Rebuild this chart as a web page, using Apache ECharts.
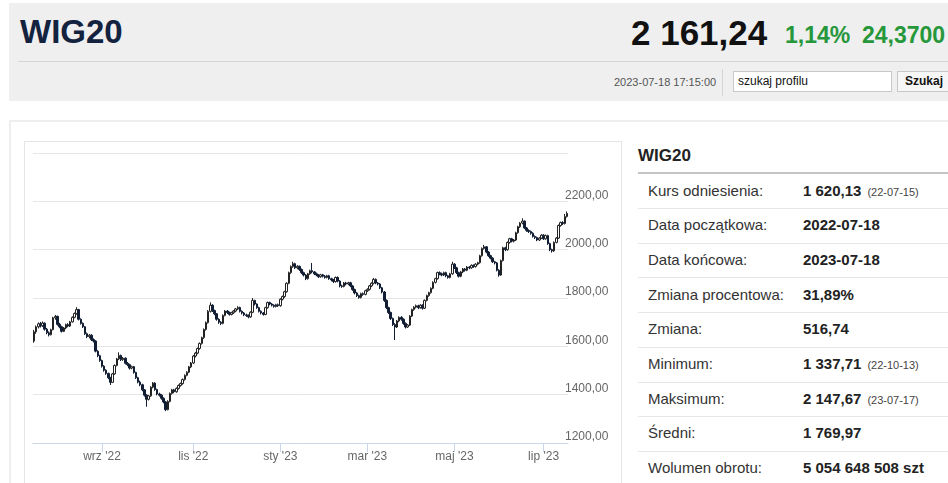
<!DOCTYPE html>
<html>
<head>
<meta charset="utf-8">
<script src="https://cdn.jsdelivr.net/npm/echarts@6/dist/echarts.min.js"></script>
<style>
  html, body { margin:0; padding:0; background:#fff; width:948px; height:483px; overflow:hidden; font-family:"Liberation Sans", Arial, sans-serif; }
  .abs { position:absolute; white-space:nowrap; }
  #header { position:absolute; left:9px; top:3px; width:950px; height:98px; background:#efefef; }
  #panel { position:absolute; left:9px; top:120px; width:950px; height:380px; border:2px solid #eeeeee; box-sizing:border-box; }
  #chartbox { position:absolute; left:24px; top:141px; width:598px; height:360px; border:1px solid #e6e6e6; box-sizing:border-box; }
  #chart { position:absolute; left:25px; top:143px; width:597px; height:340px; }
  .row-line { position:absolute; left:638px; width:320px; height:1px; background:#e6e6e6; }
  .lbl { position:absolute; left:648px; font-size:15px; color:#333; }
  .val { position:absolute; left:803px; font-size:15px; font-weight:bold; color:#222; }
  .note { font-size:11px; font-weight:normal; color:#444; margin-left:6px; }
</style>
</head>
<body>
<div id="header"></div>
<div id="panel"></div>
<div id="chartbox"></div>
<div id="chart"></div>
<div id="texts"></div>
<script>
// ---------- header / table values ----------
const quoteName = "WIG20";
const quotePrice = "2 161,24";
const quoteChangePct = "1,14%";
const quoteChange = "24,3700";
const quoteTime = "2023-07-18 17:15:00";
const searchPlaceholder = "szukaj profilu";
const searchButton = "Szukaj";
const statLabels = ["Kurs odniesienia:", "Data początkowa:", "Data końcowa:", "Zmiana procentowa:", "Zmiana:", "Minimum:", "Maksimum:", "Średni:", "Wolumen obrotu:"];
const statValues = ["1 620,13", "2022-07-18", "2023-07-18", "31,89%", "516,74", "1 337,71", "2 147,67", "1 769,97", "5 054 648 508 szt"];
const statNotes  = ["(22-07-15)", "", "", "", "", "(22-10-13)", "(23-07-17)", "", ""];

// ---------- axis values ----------
const monthNames = ['sty','lut','mar','kwi','maj','cze','lip','sie','wrz','paź','lis','gru'];
const labelMonths = [0, 2, 4, 6, 8, 10];
const yTicks = { min: 1200, max: 2400, step: 200 };
const startDate = "2022-07-18";
const endDate = "2023-07-18";
const holidays = ['2022-08-15','2022-11-01','2022-11-11','2022-12-26','2023-01-06','2023-04-07','2023-04-10','2023-05-01','2023-05-03','2023-06-08'];

// ---------- candles [open, close, low, high] per month ----------
const jul22 = [[1622,1660,1615,1668],[1660,1681,1652,1686],[1681,1693,1674,1699],[1693,1685,1678,1701],[1685,1696,1680,1703],[1696,1671,1665,1699],[1671,1656,1650,1676],[1656,1648,1641,1662],[1648,1669,1645,1673],[1669,1718,1666,1722]];
const aug22 = [[1718,1724,1710,1730],[1724,1691,1686,1727],[1691,1681,1675,1697],[1681,1662,1657,1685],[1662,1676,1659,1680],[1676,1690,1671,1694],[1690,1684,1679,1696],[1684,1701,1680,1705],[1701,1720,1698,1724],[1720,1736,1716,1740],[1736,1752,1731,1762],[1752,1712,1707,1755],[1712,1695,1690,1716],[1695,1681,1676,1699],[1681,1652,1647,1684],[1652,1640,1634,1657],[1640,1646,1633,1651],[1646,1628,1622,1650],[1628,1622,1616,1633],[1622,1580,1575,1625],[1580,1561,1555,1584],[1561,1541,1536,1565]];
const sep22 = [[1541,1518,1512,1545],[1518,1501,1495,1522],[1501,1488,1482,1505],[1488,1470,1464,1491],[1470,1451,1440,1474],[1451,1486,1448,1490],[1486,1521,1482,1525],[1521,1548,1517,1552],[1548,1562,1543,1575],[1562,1545,1539,1566],[1545,1551,1540,1556],[1551,1530,1525,1554],[1530,1524,1518,1535],[1524,1510,1504,1528],[1510,1516,1505,1520],[1516,1492,1487,1519],[1492,1470,1465,1495],[1470,1452,1447,1474],[1452,1441,1435,1458],[1441,1420,1414,1445],[1420,1398,1392,1423],[1398,1381,1350,1402]];
const oct22 = [[1381,1395,1376,1399],[1395,1431,1391,1435],[1431,1448,1426,1452],[1448,1421,1416,1451],[1421,1403,1397,1425],[1403,1398,1392,1408],[1398,1385,1379,1402],[1385,1370,1364,1389],[1370,1338,1332,1374],[1338,1372,1335,1377],[1372,1405,1368,1409],[1405,1420,1400,1424],[1420,1412,1406,1424],[1412,1426,1408,1430],[1426,1438,1421,1442],[1438,1446,1433,1450],[1446,1463,1441,1467],[1463,1480,1458,1484],[1480,1493,1476,1497],[1493,1515,1489,1519],[1515,1531,1510,1535]];
const nov22 = [[1531,1560,1527,1564],[1560,1572,1554,1577],[1572,1591,1567,1595],[1591,1612,1586,1616],[1612,1636,1607,1640],[1636,1670,1631,1674],[1670,1698,1665,1703],[1698,1745,1694,1750],[1745,1770,1740,1782],[1770,1748,1742,1774],[1748,1735,1729,1752],[1735,1712,1706,1738],[1712,1700,1693,1716],[1700,1695,1688,1704],[1695,1728,1691,1732],[1728,1746,1724,1750],[1746,1740,1734,1750],[1740,1732,1727,1744],[1732,1739,1728,1743],[1739,1746,1734,1750]];
const dec22 = [[1746,1755,1741,1759],[1755,1761,1750,1766],[1761,1745,1740,1764],[1745,1738,1732,1749],[1738,1730,1725,1742],[1730,1728,1722,1735],[1728,1722,1716,1732],[1722,1741,1718,1745],[1741,1790,1737,1800],[1790,1775,1769,1793],[1775,1760,1755,1778],[1760,1745,1740,1764],[1745,1738,1732,1749],[1738,1732,1727,1742],[1732,1760,1729,1764],[1760,1781,1756,1785],[1781,1775,1770,1785],[1775,1770,1765,1779],[1770,1765,1760,1774],[1765,1772,1761,1776],[1772,1768,1763,1777]];
const jan23 = [[1768,1795,1764,1799],[1795,1806,1790,1810],[1806,1826,1801,1830],[1826,1861,1822,1865],[1861,1905,1857,1909],[1905,1930,1900,1935],[1930,1942,1925,1950],[1942,1925,1920,1946],[1925,1931,1919,1936],[1931,1918,1912,1934],[1918,1905,1899,1922],[1905,1895,1889,1909],[1895,1880,1874,1899],[1880,1900,1876,1904],[1900,1913,1896,1917],[1913,1908,1902,1945],[1908,1900,1895,1912],[1900,1895,1890,1905],[1895,1888,1883,1899],[1888,1896,1884,1900],[1896,1890,1885,1900]];
const feb23 = [[1890,1885,1880,1895],[1885,1892,1881,1896],[1892,1880,1875,1896],[1880,1875,1869,1884],[1875,1868,1862,1879],[1868,1885,1864,1889],[1885,1870,1865,1889],[1870,1850,1844,1874],[1850,1848,1842,1855],[1848,1862,1844,1866],[1862,1858,1852,1867],[1858,1863,1853,1867],[1863,1850,1845,1867],[1850,1835,1830,1854],[1835,1821,1815,1839],[1821,1810,1804,1825],[1810,1802,1797,1814],[1802,1818,1798,1822],[1818,1815,1809,1823],[1815,1830,1811,1834]];
const mar23 = [[1830,1836,1825,1840],[1836,1850,1831,1854],[1850,1861,1845,1865],[1861,1877,1856,1883],[1877,1862,1857,1881],[1862,1858,1852,1866],[1858,1842,1837,1862],[1842,1825,1819,1846],[1825,1790,1784,1829],[1790,1760,1754,1794],[1760,1740,1734,1764],[1740,1715,1709,1744],[1715,1690,1684,1719],[1690,1680,1626,1696],[1680,1705,1676,1709],[1705,1720,1700,1724],[1720,1712,1706,1725],[1712,1695,1689,1716],[1695,1680,1674,1699],[1680,1688,1676,1692],[1688,1725,1684,1729],[1725,1752,1721,1756],[1752,1762,1747,1766]];
const apr23 = [[1762,1768,1757,1773],[1768,1760,1754,1772],[1760,1770,1756,1774],[1770,1758,1752,1774],[1758,1790,1754,1794],[1790,1810,1786,1814],[1810,1822,1805,1826],[1822,1840,1818,1844],[1840,1865,1836,1869],[1865,1880,1860,1884],[1880,1905,1876,1909],[1905,1900,1894,1910],[1900,1895,1890,1905],[1895,1905,1891,1909],[1905,1892,1886,1909],[1892,1885,1880,1896],[1885,1900,1881,1904],[1900,1940,1896,1950]];
const may23 = [[1940,1925,1920,1944],[1925,1905,1899,1929],[1905,1890,1885,1909],[1890,1908,1886,1912],[1908,1920,1903,1924],[1920,1915,1909,1924],[1915,1928,1911,1932],[1928,1925,1919,1932],[1925,1935,1921,1939],[1935,1930,1925,1939],[1930,1940,1926,1944],[1940,1946,1935,1950],[1946,1975,1942,1979],[1975,2005,1971,2009],[2005,2012,2000,2020],[2012,1990,1985,2015],[1990,1975,1970,1994],[1975,1965,1960,1979],[1965,1950,1945,1969],[1950,1945,1939,1954],[1945,1915,1910,1949]];
const jun23 = [[1915,1895,1888,1919],[1895,1955,1892,1959],[1955,2008,1951,2012],[2008,2000,1994,2012],[2000,2030,1996,2034],[2030,2045,2025,2049],[2045,2035,2030,2049],[2035,2040,2030,2044],[2040,2070,2036,2074],[2070,2095,2066,2099],[2095,2110,2090,2114],[2110,2118,2105,2130],[2118,2090,2085,2121],[2090,2080,2074,2094],[2080,2075,2069,2084],[2075,2068,2062,2079],[2068,2055,2050,2072],[2055,2050,2044,2059],[2050,2040,2035,2054],[2040,2048,2036,2052],[2048,2060,2044,2064]];
const jul23 = [[2060,2045,2040,2064],[2045,2058,2041,2062],[2058,2025,2020,2062],[2025,2000,1994,2029],[2000,1995,1988,2004],[1995,2030,1991,2034],[2030,2048,2026,2052],[2048,2100,2044,2104],[2100,2112,2095,2116],[2112,2108,2102,2118],[2108,2137,2104,2148],[2137,2150,2133,2158]];

const candles = [].concat(jul22, aug22, sep22, oct22, nov22, dec22, jan23, feb23, mar23, apr23, may23, jun23, jul23);

// trading calendar (weekdays minus exchange holidays)
const dates = [];
(function(){
  const d = new Date(startDate + 'T00:00:00Z');
  const end = new Date(endDate + 'T00:00:00Z');
  while (d <= end) {
    const s = d.toISOString().slice(0,10);
    const wd = d.getUTCDay();
    if (wd !== 0 && wd !== 6 && holidays.indexOf(s) < 0) dates.push(s);
    d.setUTCDate(d.getUTCDate() + 1);
  }
})();

function isMonthStart(i) {
  if (i <= 0) return false;
  const m = +dates[i].slice(5,7) - 1;
  const pm = +dates[i-1].slice(5,7) - 1;
  return m !== pm && labelMonths.indexOf(m) >= 0;
}

// ---------- texts ----------
const T = document.getElementById('texts');
function add(html, style) { const e = document.createElement('div'); e.className = 'abs'; e.style.cssText = style; e.innerHTML = html; T.appendChild(e); return e; }
add(quoteName, 'left:20px;top:13px;font-size:33px;line-height:38px;color:#13223f;font-weight:bold;');
add(quotePrice, 'left:631px;top:13px;font-size:35px;line-height:40px;font-weight:bold;color:#111;');
add(quoteChangePct, 'left:785px;top:20px;font-size:23px;line-height:30px;font-weight:bold;color:#26973a;');
add(quoteChange, 'left:862px;top:20px;font-size:23px;line-height:30px;font-weight:bold;color:#26973a;');
add('', 'left:18px;top:61px;width:940px;height:1px;background:#d6d6d6;');
add(quoteTime, 'left:614px;top:75px;font-size:11px;line-height:14px;color:#555;');
add('', 'left:722px;top:69px;width:1px;height:27px;background:#d4d4d4;');
add(searchPlaceholder, 'left:733px;top:71px;width:159px;height:21px;box-sizing:border-box;border:1px solid #c8c8c8;background:#fff;font-size:12px;line-height:19px;padding-left:4px;color:#111;');
add(searchButton, 'left:897px;top:71px;width:56px;height:21px;box-sizing:border-box;border:1px solid #c8c8c8;background:#f6f6f6;font-size:12px;line-height:19px;font-weight:bold;padding-left:7px;color:#111;');
add(quoteName, 'left:638px;top:146px;font-size:17px;line-height:20px;color:#222;font-weight:bold;');
add('', 'left:638px;top:172px;width:320px;height:2px;background:#c4c4c4;');
statLabels.forEach(function(lbl, i) {
  const cy = 190.5 + 34.7 * i;
  const l = document.createElement('div'); l.className = 'lbl'; l.style.top = (cy - 9) + 'px'; l.style.lineHeight = '18px'; l.textContent = lbl; T.appendChild(l);
  const v = document.createElement('div'); v.className = 'val'; v.style.top = (cy - 9) + 'px'; v.style.lineHeight = '18px';
  v.innerHTML = statValues[i] + (statNotes[i] ? '<span class="note">' + statNotes[i] + '</span>' : '');
  T.appendChild(v);
  if (i < statLabels.length - 1) { const r = document.createElement('div'); r.className = 'row-line'; r.style.top = (cy + 17.5) + 'px'; T.appendChild(r); }
});

// ---------- chart ----------
const chart = echarts.init(document.getElementById('chart'), null, { renderer: 'canvas' });
chart.setOption({
  animation: false,
  backgroundColor: 'transparent',
  grid: { left: 8, top: 10, width: 535, height: 290 },
  xAxis: {
    type: 'category',
    data: dates,
    boundaryGap: true,
    axisLine: { show: true, lineStyle: { color: '#ccd6eb', width: 1 } },
    axisTick: { show: true, alignWithLabel: true, length: 9, interval: function(i){ return isMonthStart(i); }, lineStyle: { color: '#ccd6eb' } },
    axisLabel: {
      interval: function(i){ return isMonthStart(i); },
      formatter: function(v){ const m = +v.slice(5,7) - 1; return monthNames[m] + " '" + v.slice(2,4); },
      color: '#666', fontSize: 12, fontFamily: 'Liberation Sans, Arial, sans-serif', margin: 8
    },
    splitLine: { show: false }
  },
  yAxis: {
    type: 'value',
    position: 'right',
    min: yTicks.min, max: yTicks.max, interval: yTicks.step,
    axisLine: { show: false },
    axisTick: { show: false },
    splitLine: { show: true, lineStyle: { color: '#e6e6e6', width: 1 } },
    axisLabel: {
      showMaxLabel: false,
      margin: -3,
      verticalAlign: 'bottom',
      color: '#666', fontSize: 12, fontFamily: 'Liberation Sans, Arial, sans-serif',
      formatter: function(v){ return v.toFixed(2).replace('.', ','); }
    }
  },
  series: [{
    type: 'candlestick',
    data: candles,
    barWidth: 2,
    itemStyle: { color: '#ffffff', color0: '#111d33', borderColor: '#222222', borderColor0: '#111d33', borderWidth: 1 }
  }]
});
</script>
</body>
</html>
